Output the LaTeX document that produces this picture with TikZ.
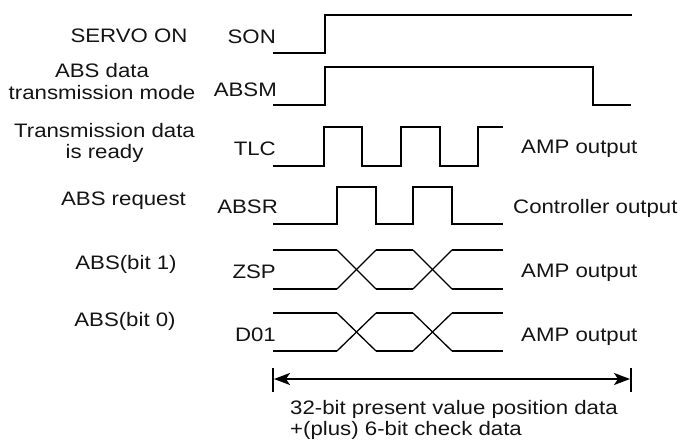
\documentclass[tikz,border=0pt]{standalone}
\usepackage{fontspec}
\setmainfont{Liberation Sans}[FakeStretch=1.14]
\usetikzlibrary{arrows.meta}
\begin{document}
\begin{tikzpicture}[x=1pt,y=-1pt,
  sig/.style={line width=2pt, line join=miter},
  cross/.style={line width=1.3pt},
  lbl/.style={font=\fontsize{19.5}{21.6}\selectfont, inner sep=0pt, text=black!92},
  signame/.style={lbl, anchor=base east},
  desc/.style={lbl, align=center},
  note/.style={lbl, anchor=base west},
  dim/.style={line width=2pt, {Stealth[length=16pt,width=12pt,inset=4pt]}-{Stealth[length=16pt,width=12pt,inset=4pt]}},
  bar/.style={line width=2.5pt}]
\useasboundingbox (0,0) rectangle (682,439);

% signal names
\node[signame] (son)  at (276,43)  {SON};
\node[signame] (absm) at (277,96)  {ABSM};
\node[signame] (tlc)  at (276,155) {TLC};
\node[signame] (absr) at (278,213.7) {ABSR};
\node[signame] (zsp)  at (276,278) {ZSP};
\node[signame] (d01)  at (276,341) {D01};

% descriptions
\node[desc] (dson)  at (129,36)  {SERVO ON};
\node[desc] (dabsm) at (102,81.5)  {ABS data\\transmission mode};
\node[desc] (dtlc)  at (104.5,143) {Transmission data\\is ready};
\node[desc] (dabsr) at (123.5,201) {ABS request};
\node[desc] (dzsp)  at (126,264) {ABS(bit 1)};
\node[desc] (dd01)  at (125,321) {ABS(bit 0)};

% outputs
\node[note] (otlc)  at (521,153)   {AMP output};
\node[note] (oabsr) at (513,213.7) {Controller output};
\node[note] (ozsp)  at (521,277)   {AMP output};
\node[note] (od01)  at (521,341)   {AMP output};

% SON
\draw[sig] (273,53) -- (325,53) -- (325,15) -- (632,15);
% ABSM
\draw[sig] (273,105) -- (325,105) -- (325,67) -- (593,67) -- (593,105) -- (631,105);
% TLC
\draw[sig] (273,166) -- (324,166) -- (324,127) -- (362,127) -- (362,166) -- (401,166)
  -- (401,127) -- (440,127) -- (440,166) -- (478,166) -- (478,127) -- (503,127);
% ABSR
\draw[sig] (273,224) -- (337,224) -- (337,187) -- (376,187) -- (376,224) -- (413,224)
  -- (413,187) -- (452,187) -- (452,224) -- (503,224);
% ZSP and D01
\foreach \t/\b in {250/289, 313/351}{
  \draw[sig] (273,\t) -- (337,\t);
  \draw[sig] (273,\b) -- (337,\b);
  \draw[sig] (376,\t) -- (413,\t);
  \draw[sig] (376,\b) -- (413,\b);
  \draw[sig] (452,\t) -- (503,\t);
  \draw[sig] (452,\b) -- (503,\b);
  \draw[cross] (337,\t) -- (376,\b);
  \draw[cross] (337,\b) -- (376,\t);
  \draw[cross] (413,\t) -- (452,\b);
  \draw[cross] (413,\b) -- (452,\t);
}

% dimension
\coordinate (dl) at (274,379);
\coordinate (dr) at (630,379);
\draw[bar] (273,368) -- (273,392);
\draw[bar] (631,368) -- (631,392);
\draw[dim] (dl) -- (dr);
\node[note] (n1) at (290,414)   {32-bit present value position data};
\node[note] (n2) at (290,435) {+(plus) 6-bit check data};
\end{tikzpicture}
\end{document}
